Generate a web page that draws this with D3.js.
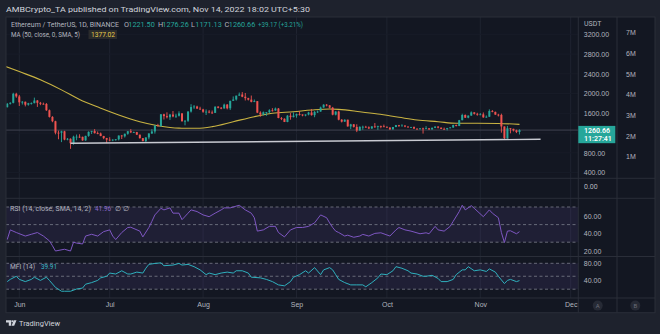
<!DOCTYPE html>
<html><head><meta charset="utf-8">
<script src="https://cdn.jsdelivr.net/npm/d3@7"></script>
<style>html,body{margin:0;padding:0;background:#1e222d;overflow:hidden}svg{display:block;font-family:Roboto,"Liberation Sans",Arial,sans-serif}</style>
</head><body><svg id="c" width="660" height="334"></svg>
<script>
// ---------------- DATA ----------------
const firstDay = "2022-05-27", lastDay = "2022-11-14";
const opens = [1793,1725,1793,1812,1996,
1942,1823,1834,1775,1804,1806,1860,1813,1793,1790,1662,1528,1440,1208,1207,1236,1068,1085,995,1127,1127,1124,1052,1143,1225,1242,1198,1192,1142,1098,
1067,1059,1067,1074,1150,1134,1186,1238,1216,1219,1168,1097,1038,1112,1192,1233,1354,1339,1581,1543,1521,1575,1537,1551,1599,1439,1449,1636,1727,1738,1695,
1679,1632,1634,1617,1609,1735,1712,1699,1776,1702,1853,1880,1958,1981,1936,1907,1877,1832,1846,1614,1577,1621,1622,1661,1657,1697,1506,1490,1425,1553,1523,
1554,1586,1577,1556,1576,1617,1563,1629,1636,1718,1775,1761,1715,1573,1636,1471,1432,1471,1335,1377,1325,1252,1327,1328,1317,1294,1335,1330,1339,1336,
1328,1311,1275,1323,1362,1352,1352,1332,1316,1322,1290,1280,1295,1288,1297,1274,1306,1331,1310,1285,1283,1300,1314,1363,1344,1461,1566,1512,1554,1619,1590,
1572,1579,1519,1531,1646,1629,1573,1568,1334,1100,1298,1287,1255,1221.5];
const highs = [1809,1810,1826,2016,2016,
1972,1849,1838,1812,1821,1918,1868,1831,1817,1808,1677,1542,1450,1250,1248,1246,1100,1093,1147,1171,1176,1128,1147,1235,1246,1280,1233,1211,1143,1103,
1116,1075,1080,1152,1163,1190,1240,1280,1230,1225,1168,1100,1115,1197,1280,1358,1388,1583,1592,1620,1588,1646,1591,1641,1601,1462,1643,1785,1768,1754,1733,
1692,1679,1665,1657,1740,1744,1728,1796,1789,1855,1942,1958,2021,2030,2012,1915,1960,1880,1849,1641,1637,1627,1683,1705,1717,1708,1524,1498,1563,1605,1618,
1595,1643,1579,1579,1630,1688,1646,1656,1736,1784,1788,1767,1730,1643,1653,1483,1478,1471,1388,1383,1378,1336,1350,1347,1336,1339,1403,1350,1352,1372,
1333,1320,1325,1365,1366,1379,1358,1336,1327,1334,1294,1302,1310,1340,1299,1314,1337,1340,1312,1311,1305,1320,1370,1372,1467,1592,1578,1557,1639,1624,1611,
1606,1618,1557,1680,1667,1635,1590,1593,1335,1345,1300,1288,1269,1276.26];
const lows = [1703,1718,1778,1802,1915,
1749,1778,1740,1755,1777,1802,1730,1765,1778,1650,1515,1420,1174,1075,1017,1055,1054,881,963,1055,1102,1044,1043,1125,1181,1192,1177,1136,1076,997,
1035,1036,1046,1051,1080,1110,1166,1200,1202,1160,1089,1034,1006,1074,1183,1190,1336,1335,1475,1497,1466,1520,1505,1536,1435,1357,1426,1615,1690,1693,1670,
1610,1566,1602,1587,1607,1701,1683,1695,1680,1668,1852,1858,1955,1926,1860,1860,1822,1826,1604,1530,1558,1548,1599,1635,1651,1500,1463,1423,1420,1471,1518,
1511,1555,1540,1540,1559,1554,1521,1606,1632,1714,1741,1701,1560,1558,1458,1415,1427,1331,1280,1312,1220,1248,1267,1309,1282,1283,1306,1265,1297,1321,
1306,1267,1272,1318,1323,1346,1319,1309,1310,1286,1270,1274,1190,1283,1265,1272,1300,1294,1282,1272,1255,1298,1304,1335,1340,1458,1505,1500,1550,1575,1551,
1562,1509,1511,1529,1621,1570,1537,1209,1070,1085,1195,1233,1200,1171.13];
const closes = [1725,1793,1812,1996,1942,
1823,1834,1775,1804,1806,1860,1813,1793,1790,1662,1528,1440,1208,1207,1236,1068,1085,995,1127,1127,1124,1052,1143,1225,1242,1198,1192,1142,1098,1067,
1059,1067,1074,1150,1134,1186,1238,1216,1219,1168,1097,1038,1112,1192,1233,1354,1339,1581,1543,1521,1575,1537,1551,1599,1439,1449,1636,1727,1738,1695,1679,
1632,1634,1617,1609,1735,1712,1699,1776,1702,1853,1880,1958,1981,1936,1907,1877,1832,1846,1614,1577,1621,1622,1661,1657,1697,1506,1490,1425,1553,1523,1554,
1586,1577,1556,1576,1617,1563,1629,1636,1718,1775,1761,1715,1573,1636,1471,1432,1471,1335,1377,1325,1252,1327,1328,1317,1294,1335,1330,1339,1336,1328,
1311,1275,1323,1362,1352,1352,1332,1316,1322,1290,1280,1295,1288,1297,1274,1306,1331,1310,1285,1283,1300,1314,1363,1344,1461,1566,1512,1554,1619,1590,1572,
1579,1519,1531,1646,1629,1573,1568,1334,1100,1298,1287,1255,1221,1260.66];

const maDates = ["2022-05-27","2022-06-01","2022-06-08","2022-06-15","2022-06-21","2022-06-28","2022-07-04","2022-07-11","2022-07-17","2022-07-24","2022-07-30","2022-08-04","2022-08-11","2022-08-18","2022-08-24","2022-08-31","2022-09-06","2022-09-12","2022-09-15","2022-09-22","2022-09-28","2022-10-05","2022-10-11","2022-10-18","2022-10-24","2022-10-31","2022-11-07","2022-11-14"];
const maValues = [2560,2445,2280,2075,1880,1705,1566,1430,1350,1300,1297,1330,1430,1532,1600,1633,1667,1688,1681,1633,1586,1520,1465,1430,1398,1398,1395,1377.02];

const supportDates = ["2022-06-18","2022-11-21"];
const supportPrices = [993,1074];

const rsiDates = ["2022-05-28","2022-05-29","2022-05-31","2022-06-03","2022-06-05","2022-06-07","2022-06-09","2022-06-11","2022-06-12","2022-06-13","2022-06-16","2022-06-18","2022-06-19","2022-06-20","2022-06-22","2022-06-23","2022-06-25","2022-06-27","2022-06-29","2022-07-01","2022-07-02","2022-07-03","2022-07-05","2022-07-07","2022-07-08","2022-07-11","2022-07-12","2022-07-14","2022-07-15","2022-07-16","2022-07-18","2022-07-19","2022-07-21","2022-07-22","2022-07-24","2022-07-25","2022-07-27","2022-07-28","2022-07-30","2022-08-01","2022-08-03","2022-08-05","2022-08-07","2022-08-08","2022-08-10","2022-08-13","2022-08-15","2022-08-17","2022-08-18","2022-08-19","2022-08-21","2022-08-23","2022-08-25","2022-08-26","2022-08-28","2022-08-30","2022-09-01","2022-09-03","2022-09-05","2022-09-07","2022-09-09","2022-09-11","2022-09-12","2022-09-13","2022-09-14","2022-09-15","2022-09-17","2022-09-18","2022-09-20","2022-09-22","2022-09-23","2022-09-25","2022-09-27","2022-09-29","2022-10-02","2022-10-04","2022-10-05","2022-10-07","2022-10-09","2022-10-12","2022-10-14","2022-10-15","2022-10-17","2022-10-18","2022-10-20","2022-10-22","2022-10-23","2022-10-25","2022-10-26","2022-10-27","2022-10-29","2022-10-30","2022-11-02","2022-11-04","2022-11-05","2022-11-07","2022-11-08","2022-11-09","2022-11-10","2022-11-11","2022-11-13","2022-11-14"];
const rsiValues = [33,44,41,37,39,41,37,31.5,26,20,22,20,30,29,28,37,39,37,42,44,37,33,41,46.7,47,42.6,36,46.7,53.7,61,68.5,66.7,69,63,63,55.6,63,66.7,64.8,61,59,63,66.7,69,69,72,66.7,63,57.8,42.6,44,48,48,41,36,44,46.7,46.7,48,52,61,57.8,51.9,46.7,42.6,41,37,38,35.6,37,38.9,37,40,40.7,37,44,46.7,44,42.6,39.6,40.7,39.6,48,44,42.6,48,53.7,64.8,72,66.7,71.5,68.5,59,66.7,63,57.8,41,29.6,42.6,43,39.6,41.96];

const mfiDates = ["2022-05-28","2022-05-29","2022-05-31","2022-06-01","2022-06-03","2022-06-05","2022-06-06","2022-06-08","2022-06-10","2022-06-11","2022-06-13","2022-06-15","2022-06-16","2022-06-18","2022-06-20","2022-06-22","2022-06-23","2022-06-25","2022-06-27","2022-06-28","2022-06-30","2022-07-01","2022-07-03","2022-07-05","2022-07-07","2022-07-08","2022-07-10","2022-07-12","2022-07-13","2022-07-14","2022-07-16","2022-07-18","2022-07-19","2022-07-22","2022-07-24","2022-07-25","2022-07-27","2022-07-29","2022-07-31","2022-08-02","2022-08-03","2022-08-05","2022-08-07","2022-08-09","2022-08-11","2022-08-12","2022-08-14","2022-08-16","2022-08-17","2022-08-20","2022-08-22","2022-08-24","2022-08-26","2022-08-28","2022-08-30","2022-08-31","2022-09-02","2022-09-04","2022-09-05","2022-09-07","2022-09-09","2022-09-10","2022-09-12","2022-09-13","2022-09-14","2022-09-15","2022-09-17","2022-09-19","2022-09-21","2022-09-23","2022-09-24","2022-09-26","2022-09-28","2022-09-29","2022-10-01","2022-10-03","2022-10-04","2022-10-06","2022-10-08","2022-10-09","2022-10-11","2022-10-13","2022-10-14","2022-10-16","2022-10-18","2022-10-19","2022-10-21","2022-10-23","2022-10-24","2022-10-26","2022-10-27","2022-10-28","2022-10-30","2022-11-01","2022-11-03","2022-11-04","2022-11-06","2022-11-07","2022-11-09","2022-11-10","2022-11-11","2022-11-13","2022-11-14"];
const mfiValues = [37.6,42.7,50,42.7,37.6,42.7,47.8,40.4,47.8,40.4,24.2,15.3,15.3,15.3,20.4,22.6,31.6,35.3,40.4,46.3,50,57.4,55.2,62.7,55.2,55.2,59.6,57.4,68.6,77.5,79.7,81,74.4,75.9,79.7,75.9,77.5,72.2,64.8,53.7,57.4,53.7,57.4,59.6,57.4,62.7,62.7,57.4,47.8,46.3,42.7,37.6,30,27.8,37.6,47.8,53.7,62.7,57.4,70,53.7,64.8,70,64.8,53.7,42.7,35.3,30,30,30,25.6,35.3,46.3,55.2,53.7,62.7,72.2,68.5,62.7,57.4,55.2,50,50,52.2,44.9,37.6,37.6,42.7,53.7,64.8,64.8,72.2,62.7,64.8,61.1,67,59.6,50,33,40.4,42.7,37.6,39.91];

const priceTicks = [400,800,1600,2000,2400,2800,3200];
const volumeTicks = [1e6,2e6,3e6,4e6,5e6,6e6,7e6];
const rsiTicks = [20,40,60];
const rsiBands = [70,50,30];
const mfiTicks = [40,80];
const mfiBands = [80,50,20];
const monthTicks = ["2022-06-01","2022-07-01","2022-08-01","2022-09-01","2022-10-01","2022-11-01","2022-12-01"];
const lastPrice = 1260.66, maLast = 1377.02;

// ---------------- LAYOUT ----------------
const P = {l:6, r:578.3, v:617, rr:655, top:17, mainB:178.3, volB:198.3, rsiB:256.5, mfiB:298, axB:312.7};
const C = {bg:"#131722", outer:"#1e222d", border:"#2a2e39", grid:"#1f2330", text:"#b2b5be", up:"#26a69a", down:"#ef5350", ma:"#c9b342", rsi:"#7e57c2", mfi:"#2fb0bd", dash:"#6f7380"};

const parse = d3.utcParse("%Y-%m-%d");
const svg = d3.select("#c");
const FS = 7;

const x = d3.scaleUtc().domain([parse("2022-06-01"), parse("2022-12-01")]).range([19.3, 570.7]);
const y = d3.scaleLinear().domain([400, 3200]).range([172.6, 34.3]);
const yv = d3.scaleLinear().domain([1e6, 7e6]).range([156.7, 32.3]);
const yr = d3.scaleLinear().domain([30, 70]).range([242.2, 207]);
const ym = d3.scaleLinear().domain([20, 80]).range([289.2, 263.3]);

const days = d3.utcDay.range(parse(firstDay), d3.utcDay.offset(parse(lastDay), 1));
const candles = days.map((d, i) => ({d, o: opens[i], h: highs[i], l: lows[i], c: closes[i]}));

// backgrounds
svg.append("rect").attr("width", 660).attr("height", 334).attr("fill", C.outer);
svg.append("rect").attr("x", P.l).attr("y", P.top).attr("width", P.rr - P.l).attr("height", P.axB - P.top).attr("fill", C.bg);

// clip paths
const defs = svg.append("defs");
function clip(id, y0, y1) {
  defs.append("clipPath").attr("id", id).append("rect").attr("x", P.l).attr("y", y0).attr("width", P.r - P.l).attr("height", y1 - y0);
}
clip("cMain", P.top, P.mainB); clip("cRsi", P.volB, P.rsiB); clip("cMfi", P.rsiB, P.mfiB);

// vertical month grid lines
const monthDates = monthTicks.map(parse);
svg.append("g").selectAll("line").data(monthDates).join("line")
  .attr("x1", d => x(d)).attr("x2", d => x(d)).attr("y1", P.top).attr("y2", P.mfiB)
  .attr("stroke", C.grid).attr("stroke-width", 1);
// horizontal grid in main pane
svg.append("g").selectAll("line").data(priceTicks.concat([1200])).join("line")
  .attr("x1", P.l).attr("x2", P.r).attr("y1", d => y(d)).attr("y2", d => y(d))
  .attr("stroke", "#181c28").attr("stroke-width", 1);

// ---------------- MAIN PANE ----------------
const gMain = svg.append("g").attr("clip-path", "url(#cMain)");
// last price line
gMain.append("line").attr("x1", P.l).attr("x2", P.r).attr("y1", y(lastPrice)).attr("y2", y(lastPrice))
  .attr("stroke", "#3f4350").attr("stroke-width", 1);
// MA line
const maData = maDates.map((d, i) => ({d: parse(d), v: maValues[i]}));
gMain.append("path").datum(maData)
  .attr("d", d3.line().x(d => x(d.d)).y(d => y(d.v)).curve(d3.curveMonotoneX))
  .attr("fill", "none").attr("stroke", C.ma).attr("stroke-width", 1.1);
// candles
const gc = gMain.append("g").selectAll("g").data(candles).join("g");
gc.append("line").attr("x1", d => x(d.d)).attr("x2", d => x(d.d)).attr("y1", d => y(d.h)).attr("y2", d => y(d.l))
  .attr("stroke", d => d.c >= d.o ? C.up : C.down).attr("stroke-width", 0.9);
gc.append("rect").attr("x", d => x(d.d) - 1).attr("width", 2)
  .attr("y", d => y(Math.max(d.o, d.c))).attr("height", d => Math.max(0.8, Math.abs(y(d.o) - y(d.c))))
  .attr("fill", d => d.c >= d.o ? C.up : C.down);
// support line
const supData = supportDates.map((d, i) => ({d: parse(d), v: supportPrices[i]}));
gMain.append("path").datum(supData)
  .attr("d", d3.line().x(d => x(d.d)).y(d => y(d.v)))
  .attr("fill", "none").attr("stroke", "#c8cad1").attr("stroke-width", 1.4);

// ---------------- RSI PANE ----------------
svg.append("rect").attr("x", P.l).attr("y", yr(70)).attr("width", P.r - P.l).attr("height", yr(30) - yr(70))
  .attr("fill", "rgba(126,87,194,0.12)");
svg.append("g").selectAll("line").data(rsiBands).join("line")
  .attr("x1", P.l).attr("x2", P.r).attr("y1", d => yr(d)).attr("y2", d => yr(d))
  .attr("stroke", C.dash).attr("stroke-dasharray", "3,2.5").attr("stroke-width", 0.9);
const rsiData = rsiDates.map((d, i) => ({d: parse(d), v: rsiValues[i]}));
svg.append("g").attr("clip-path", "url(#cRsi)").append("path").datum(rsiData)
  .attr("d", d3.line().x(d => x(d.d)).y(d => yr(d.v)))
  .attr("fill", "none").attr("stroke", C.rsi).attr("stroke-width", 1);

// ---------------- MFI PANE ----------------
svg.append("rect").attr("x", P.l).attr("y", ym(80)).attr("width", P.r - P.l).attr("height", ym(20) - ym(80))
  .attr("fill", "rgba(126,87,194,0.12)");
svg.append("g").selectAll("line").data(mfiBands).join("line")
  .attr("x1", P.l).attr("x2", P.r).attr("y1", d => ym(d)).attr("y2", d => ym(d))
  .attr("stroke", C.dash).attr("stroke-dasharray", "3,2.5").attr("stroke-width", 0.9);
const mfiData = mfiDates.map((d, i) => ({d: parse(d), v: mfiValues[i]}));
svg.append("g").attr("clip-path", "url(#cMfi)").append("path").datum(mfiData)
  .attr("d", d3.line().x(d => x(d.d)).y(d => ym(d.v)))
  .attr("fill", "none").attr("stroke", C.mfi).attr("stroke-width", 1);

// ---------------- BORDERS ----------------
const gb = svg.append("g").attr("stroke", C.border).attr("stroke-width", 1).attr("fill", "none");
[P.mainB, P.volB, P.rsiB, P.mfiB].forEach(v => gb.append("line").attr("x1", P.l).attr("x2", P.rr).attr("y1", v).attr("y2", v));
[P.r, P.v].forEach(v => gb.append("line").attr("x1", v).attr("x2", v).attr("y1", P.top).attr("y2", P.axB));
gb.append("rect").attr("x", P.l).attr("y", P.top).attr("width", P.rr - P.l).attr("height", P.axB - P.top);

// ---------------- AXES ----------------
function styleAxis(g) {
  g.select(".domain").remove();
  g.selectAll("line").remove();
  g.selectAll("text").attr("fill", C.text).attr("font-size", FS);
}
svg.append("g").attr("transform", `translate(${P.r},0)`)
  .call(d3.axisRight(y).tickValues(priceTicks).tickFormat(d3.format(".2f")).tickSize(0).tickPadding(5.5))
  .call(styleAxis);
svg.append("g").attr("transform", `translate(${P.v},0)`)
  .call(d3.axisRight(yv).tickValues(volumeTicks).tickFormat(d => (d / 1e6) + "M").tickSize(0).tickPadding(9))
  .call(styleAxis);
svg.append("g").attr("transform", `translate(${P.r},0)`)
  .call(d3.axisRight(yr).tickValues(rsiTicks).tickFormat(d3.format(".2f")).tickSize(0).tickPadding(5.5))
  .call(styleAxis);
svg.append("g").attr("transform", `translate(${P.r},0)`)
  .call(d3.axisRight(ym).tickValues(mfiTicks).tickFormat(d3.format(".2f")).tickSize(0).tickPadding(5.5))
  .call(styleAxis);
svg.append("g").attr("transform", `translate(0,${P.mfiB})`)
  .call(d3.axisBottom(x).tickValues(monthDates).tickFormat(d3.utcFormat("%b")).tickSize(0).tickPadding(4.5))
  .call(styleAxis);

function txt(s, xx, yy, fill, size, opts = {}) {
  const t = svg.append("text").attr("x", xx).attr("y", yy).attr("fill", fill).attr("font-size", size).text(s);
  if (opts.len) t.attr("textLength", opts.len).attr("lengthAdjust", "spacingAndGlyphs");
  if (opts.anchor) t.attr("text-anchor", opts.anchor);
  if (opts.weight) t.attr("font-weight", opts.weight);
  return t;
}
txt("USDT", 584, 25.5, C.text, FS);
txt("0.00", 584, 188.5, C.text, FS);

// last price label
const ly = y(lastPrice);
svg.append("rect").attr("x", P.r).attr("y", ly - 4.2).attr("width", 37).attr("height", 17.3).attr("fill", C.up);
txt(lastPrice.toFixed(2), 584, ly + 2.6, "#ffffff", FS, {weight: 600});
txt("11:27:41", 584, ly + 10.6, "#ffffff", FS, {weight: 600});

// A / B buttons
[[597.7, "A"], [635.3, "B"]].forEach(([cx, s]) => {
  svg.append("circle").attr("cx", cx).attr("cy", 305.6).attr("r", 5).attr("fill", "#262a35");
  txt(s, cx, 308, "#6a6d78", 6, {anchor: "middle"});
});

// ---------------- HEADER / LEGENDS ----------------
txt("AMBCrypto_TA published on TradingView.com, Nov 14, 2022 18:02 UTC+5:30", 6, 12, "#d1d4dc", 8, {len: 304});
txt("Ethereum / TetherUS, 1D, BINANCE", 11, 27.3, C.text, 7.3, {len: 108});
const seg = [["O",124],["H",158],["L",191],["C",224.5]];
const segV = [opens[opens.length-1], highs[highs.length-1], lows[lows.length-1], closes[closes.length-1]];
seg.forEach(([s, xx], i) => {
  txt(s, xx, 27.3, C.text, 7.3);
  txt(segV[i].toFixed(2), xx + 4.3, 27.3, C.up, 7.3, {len: 26.5});
});
txt("+39.17 (+3.21%)", 258, 27.3, C.up, 7.3, {len: 45});
txt("MA (50, close, 0, SMA, 5)", 11, 36.8, C.text, 7.3, {len: 69});
svg.append("rect").attr("x", 88.5).attr("y", 30).attr("width", 28.5).attr("height", 9).attr("fill", "#2a2b2c");
txt(maLast.toFixed(2), 91, 36.8, "#e6c94a", 7.3, {len: 24});

txt("RSI (14, close, SMA, 14, 2)", 10, 210.5, C.text, 7, {len: 81});
txt(rsiValues[rsiValues.length-1].toFixed(2), 95, 210.5, "#8e6ad0", 7, {len: 16});
txt("∅  ∅", 115, 210.5, C.text, 6.5);
txt("MFI (14)", 10, 269.3, C.text, 7, {len: 25});
txt(mfiValues[mfiValues.length-1].toFixed(2), 41, 269.3, "#39b8c6", 7, {len: 16});

// ---------------- FOOTER ----------------
svg.append("path").attr("d", "M6 320.2h5.2v5.6h-2.4v-3.2h-2.8z M13.7 320.2h2.8l-2.3 5.6h-2.6z").attr("fill", "#d1d4dc");
svg.append("circle").attr("cx", 12.4).attr("cy", 321.2).attr("r", 1).attr("fill", "#d1d4dc");
txt("TradingView", 19, 326.3, "#d1d4dc", 8, {len: 41});
</script></body></html>
